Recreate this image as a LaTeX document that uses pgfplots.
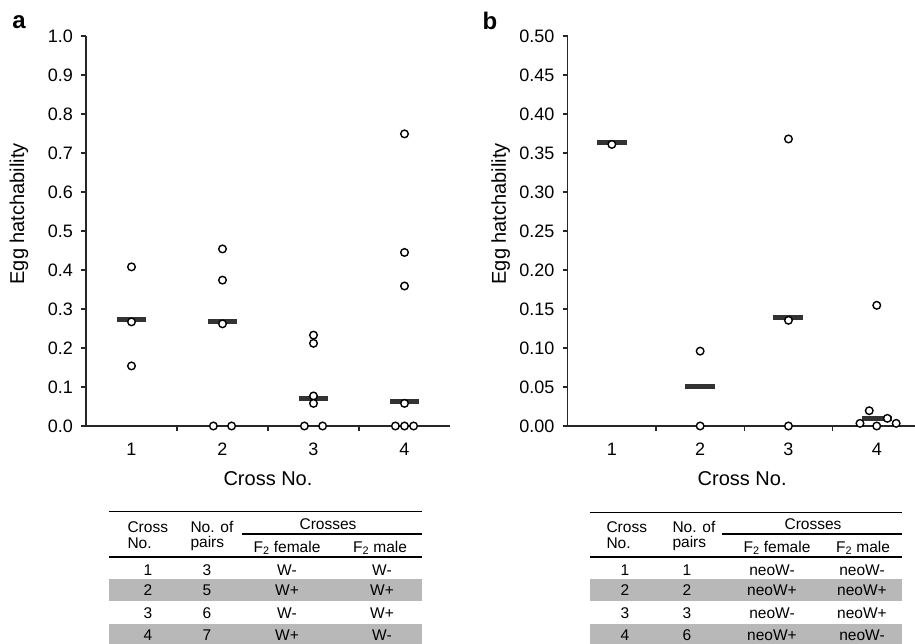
\documentclass[border=0pt]{standalone}
\usepackage{pgfplots}
\pgfplotsset{compat=1.18}
\usepackage{fontspec}
\setmainfont{Liberation Sans}
\definecolor{bandgray}{gray}{0.72}
\definecolor{bargray}{gray}{0.2}
\newcommand{\tickfont}{\fontsize{18}{18}\selectfont}
\newcommand{\labfont}{\fontsize{20}{20}\selectfont}
\newcommand{\tabfont}{\fontsize{15.5}{15.5}\selectfont}
\pgfplotsset{
  hatch/.style={
    scale only axis, axis lines*=left, clip=false,
    xmin=0.5, xmax=4.5, ymin=0,
    tick align=outside, major tick length=5pt,
    axis line style={line width=1.1pt, black!85},
    every tick/.style={line width=1.1pt, black!85},
    xtick={1.5,2.5,3.5}, xticklabels={},
    extra x ticks={1,2,3,4}, extra x tick labels={1,2,3,4},
    extra x tick style={major tick length=0pt},
    xticklabel style={font=\tickfont, anchor=north, inner sep=0pt, yshift=-17pt},
    yticklabel style={font=\tickfont, anchor=east, inner sep=0pt, xshift=-8pt},
    /pgf/number format/assume math mode=true,
    ylabel={Egg hatchability}, xlabel={Cross No.},
    every axis y label/.style={font=\labfont, rotate=90, anchor=center},
    every axis x label/.style={font=\labfont, anchor=center},
  },
  pts/.style={only marks, mark=*, mark size=3.8pt,
    mark options={fill=white, draw=black, line width=1.4pt}},
  bars/.style={draw=bargray, line width=5pt, unbounded coords=jump},
}
\begin{document}
\begin{tikzpicture}[x=1pt,y=1pt]
\path[use as bounding box] (0,0) rectangle (915,644);
% ---------- panel a ----------
\begin{axis}[hatch, at={(86pt,218pt)}, anchor=south west,
  width=364pt, height=390pt, ymax=1.0,
  ytick={0,0.1,...,1.0},
  yticklabel style={/pgf/number format/.cd, fixed, fixed zerofill, precision=1},
  every axis y label/.append style={at={(axis description cs:-0.184,0.544)}},
  every axis x label/.append style={at={(axis description cs:0.5,-0.136)}},
]
\addplot[bars] coordinates {(0.84,0.272) (1.16,0.272) (nan,nan)
  (1.84,0.267) (2.16,0.267) (nan,nan)
  (2.84,0.071) (3.16,0.071) (nan,nan)
  (3.84,0.062) (4.16,0.062)};
\addplot[pts] coordinates {
  (1,0.408) (1,0.267) (1,0.154)
  (2,0.454) (2,0.374) (2,0.262) (1.9,0) (2.1,0)
  (3,0.233) (3,0.212) (3,0.077) (3,0.058) (2.9,0) (3.1,0)
  (4,0.749) (4,0.445) (4,0.359) (4,0.058) (3.9,0) (4,0) (4.1,0)};
\end{axis}
% ---------- panel b ----------
\begin{axis}[hatch, at={(567.7pt,218pt)}, anchor=south west,
  width=353.2pt, height=390pt, ymax=0.5,
  ytick={0,0.05,...,0.5},
  yticklabel style={/pgf/number format/.cd, fixed, fixed zerofill, precision=2},
  every axis y label/.append style={at={(axis description cs:-0.19,0.544)}},
  every axis x label/.append style={at={(axis description cs:0.494,-0.136)}},
]
\addplot[bars] coordinates {(0.83,0.363) (1.17,0.363) (nan,nan)
  (1.83,0.050) (2.17,0.050) (nan,nan)
  (2.83,0.1385) (3.17,0.1385) (nan,nan)
  (3.83,0.009) (4.17,0.009)};
\addplot[pts] coordinates {
  (1,0.361)
  (2,0.096) (2,0)
  (3,0.368) (3,0.1355) (3,0)
  (4,0.1547) (3.915,0.0196) (4.12,0.0098) (3.81,0.0034) (4,0) (4.22,0.0034)};
\end{axis}
% ---------- panel letters ----------
\node[font=\fontsize{24}{24}\selectfont\bfseries] at (19,622) {a};
\node[font=\fontsize{24}{24}\selectfont\bfseries] at (490,623) {b};
% ---------- table a ----------
\begin{scope}[font=\tabfont]
\fill[bandgray] (109,644-579) rectangle (422,644-601);
\fill[bandgray] (109,644-624) rectangle (422,0);
\draw[line width=1.5pt] (109,644-511.7) -- (422,644-511.7);
\draw[line width=1.2pt] (242,644-534) -- (422,644-534);
\draw[line width=2pt] (109,644-557) -- (422,644-557);
\node[anchor=west] at (124,644-527) {Cross};
\node[anchor=west] at (124,644-543) {No.};
\node[anchor=west] at (187,644-527) {No. of};
\node[anchor=west] at (187,644-543) {pairs};
\node at (328,644-524) {Crosses};
\node at (287,644-548) {F\textsubscript{2} female};
\node at (380,644-548) {F\textsubscript{2} male};
\foreach \y/\a/\b/\c/\d in {570/1/3/W-/W-, 590/2/5/W+/W+, 613/3/6/W-/W+, 635/4/7/W+/W-}{
  \node at (148,644-\y) {\a};
  \node at (207,644-\y) {\b};
  \node at (287,644-\y) {\c};
  \node at (382,644-\y) {\d};
}
% ---------- table b ----------
\fill[bandgray] (590,644-579) rectangle (902,644-601);
\fill[bandgray] (590,644-624) rectangle (902,0);
\draw[line width=1.5pt] (590,644-512.7) -- (902,644-512.7);
\draw[line width=1.2pt] (722,644-534) -- (902,644-534);
\draw[line width=2pt] (590,644-557) -- (902,644-557);
\node[anchor=west] at (603,644-527) {Cross};
\node[anchor=west] at (603,644-543) {No.};
\node[anchor=west] at (669,644-527) {No. of};
\node[anchor=west] at (669,644-543) {pairs};
\node at (813,644-524) {Crosses};
\node at (777,644-548) {F\textsubscript{2} female};
\node at (863,644-548) {F\textsubscript{2} male};
\foreach \y/\a/\b/\c/\d in {570/1/1/neoW-/neoW-, 590/2/2/neoW+/neoW+, 613/3/3/neoW-/neoW+, 635/4/6/neoW+/neoW-}{
  \node at (625,644-\y) {\a};
  \node at (687,644-\y) {\b};
  \node at (772,644-\y) {\c};
  \node at (862,644-\y) {\d};
}
\end{scope}
\end{tikzpicture}
\end{document}
